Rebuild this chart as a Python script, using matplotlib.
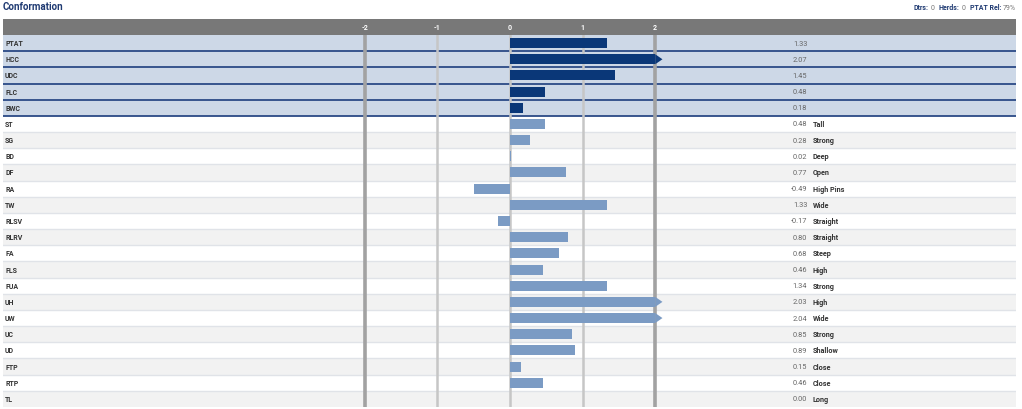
import numpy as np
import matplotlib
matplotlib.use('Agg')
import matplotlib.pyplot as plt
from matplotlib.patches import Polygon

plt.rcParams['font.family'] = ['Roboto', 'DejaVu Sans']

traits = ['PTAT', 'HCC', 'UDC', 'FLC', 'BWC', 'ST', 'SG', 'BD', 'DF', 'RA', 'TW',
          'RLSV', 'RLRV', 'FA', 'FLS', 'FUA', 'UH', 'UW', 'UC', 'UD', 'FTP', 'RTP', 'TL']
values = [1.33, 2.07, 1.45, 0.48, 0.18, 0.48, 0.28, 0.02, 0.77, -0.49, 1.33,
          -0.17, 0.80, 0.68, 0.46, 1.34, 2.03, 2.04, 0.85, 0.89, 0.15, 0.46, 0.00]
descriptions = ['', '', '', '', '', 'Tall', 'Strong', 'Deep', 'Open', 'High Pins', 'Wide',
                'Straight', 'Straight', 'Steep', 'High', 'Strong', 'High', 'Wide',
                'Strong', 'Shallow', 'Close', 'Close', 'Long']
n_summary = 5
ticks = [-2, -1, 0, 1, 2]
info = [('Dtrs:', '0'), ('Herds:', '0'), ('PTAT Rel:', '79%')]

W, H = 1022, 410
fig = plt.figure(figsize=(W / 100, H / 100), dpi=100)

left_px, right_px = 3, 1016
zero_px, unit_px = 510, 72.6
xlim = ((left_px - zero_px) / unit_px, (right_px - zero_px) / unit_px)


def frame(top, bottom):
    return [left_px / W, 1 - bottom / H, (right_px - left_px) / W, (bottom - top) / H]


navy = '#0a3778'
light_bar = '#7b9bc4'
summary_bg = '#cdd8e7'
stripe = '#f2f2f2'

# header strip
hax = fig.add_axes(frame(20, 36))
hax.set_xlim(*xlim)
hax.set_ylim(0, 1)
hax.axis('off')
hax.add_patch(plt.Rectangle((0, 0), 1, 1, transform=hax.transAxes, color='#787878'))
for t in ticks:
    hax.text(t, 0.5, str(t), color='white', fontsize=5, fontweight='bold',
             ha='center', va='center')

# body
ax = fig.add_axes(frame(36, 408))
n = len(traits)
ax.set_xlim(*xlim)
ax.set_ylim(n - 0.5, -0.5)
ax.axis('off')

for i in range(n):
    if i < n_summary:
        bg = summary_bg
    else:
        bg = stripe if i % 2 == 0 else 'white'
    ax.axhspan(i - 0.5, i + 0.5, color=bg, lw=0, zorder=0)

for i in range(n):
    if i < n_summary:
        ax.axhline(i + 0.5, color='#2b4a86', lw=1.3, zorder=1)
    elif i < n - 1:
        ax.axhline(i + 0.5, color='#e0e3e8', lw=1.0, zorder=1)

for t in ticks:
    if abs(t) == 2:
        ax.axvline(t, color='#a2a2a2', lw=2.6, zorder=1.5)
    else:
        ax.axvline(t, color='#c6c6c6', lw=1.8, zorder=1.5)

vals = np.array(values)
clipped = np.clip(vals, -2, 2)
colors = [navy if i < n_summary else light_bar for i in range(n)]
bar_h = 0.62
ax.barh(np.arange(n), clipped, height=bar_h, color=colors, zorder=2)
for i, v in enumerate(vals):
    if v > 2:
        ax.add_patch(Polygon([(2, i - bar_h / 2), (2.1, i), (2, i + bar_h / 2)],
                             closed=True, color=colors[i], lw=0, zorder=2))

ytr = ax.get_yaxis_transform()
for i in range(n):
    ax.text(0.002, i, traits[i], transform=ytr, fontsize=5, fontweight='bold',
            color='#333333', ha='left', va='center')
    ax.text(0.794, i, '%.2f' % values[i], transform=ytr, fontsize=5.3,
            color='#666666', ha='right', va='center')
    if descriptions[i]:
        ax.text(0.7995, i, descriptions[i], transform=ytr, fontsize=5.2,
                fontweight='bold', color='#333333', ha='left', va='center')

# title and info line
fig.text(3 / W, 1 - 7 / H, 'Conformation', fontsize=7, fontweight='bold',
         color='#1f3a72', ha='left', va='center')

fig.canvas.draw()
renderer = fig.canvas.get_renderer()
x = right_px
for label, val in reversed(info):
    t = fig.text(x / W, 1 - 8 / H, val, fontsize=5, color='#777777',
                 ha='right', va='center')
    x = t.get_window_extent(renderer).x0 - 2
    t = fig.text(x / W, 1 - 8 / H, label, fontsize=5, fontweight='bold',
                 color='#1f3a72', ha='right', va='center')
    x = t.get_window_extent(renderer).x0 - 4

fig.savefig('out.png', dpi=100)
